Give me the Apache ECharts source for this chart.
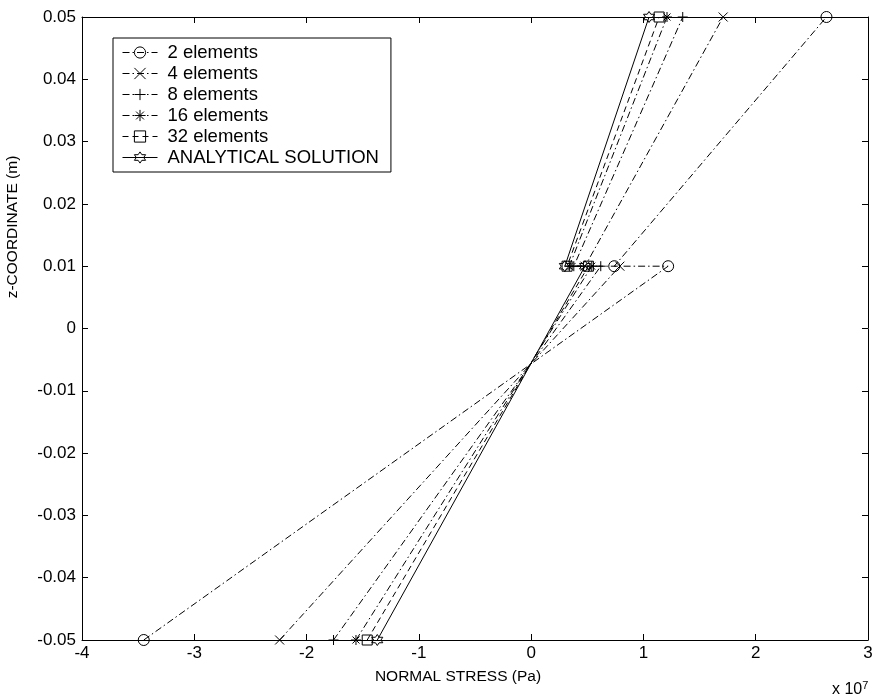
<!DOCTYPE html>
<html>
<head>
<meta charset="utf-8">
<script src="https://cdn.jsdelivr.net/npm/echarts@6/dist/echarts.min.js"></script>
<style>
html,body{margin:0;padding:0;background:#fff;}
#chart{width:878px;height:698px;}
</style>
</head>
<body>
<div id="chart"></div>
<script>
// z-coordinates of the points of each curve (m)
const zPoints = [-0.05, 0.01, 0.01, 0.05];
// normal stress values, in units of 1e7 Pa
const stress2 = [-3.45, 1.22, 0.74, 2.63];
const stress4 = [-2.24, 0.79, 0.48, 1.71];
const stress8 = [-1.76, 0.62, 0.38, 1.35];
const stress16 = [-1.56, 0.54, 0.34, 1.21];
const stress32 = [-1.46, 0.51, 0.32, 1.14];
const stressAnalytical = [-1.37, 0.48, 0.30, 1.05];
const seriesNames = ['2 elements', '4 elements', '8 elements', '16 elements', '32 elements', 'ANALYTICAL SOLUTION'];
const xTicks = [-4, -3, -2, -1, 0, 1, 2, 3];
const yTicks = [-0.05, -0.04, -0.03, -0.02, -0.01, 0, 0.01, 0.02, 0.03, 0.04, 0.05];

const FONT = "'Liberation Sans', Arial, sans-serif";
const symX = 'path://M0 0 L20 20 M20 0 L0 20';
const symPlus = 'path://M10 0 L10 20 M0 10 L20 10';
const symStar = 'path://M10 0 L10 20 M0 10 L20 10 M3 3 L17 17 M17 3 L3 17';
const symHex = 'path://M10 0 L12.89 5 L18.66 5 L15.77 10 L18.66 15 L12.89 15 L10 20 L7.11 15 L1.34 15 L4.23 10 L1.34 5 L7.11 5 Z';

const dashDot = [7, 3, 1.5, 3];
const styles = [
  {symbol: 'circle', size: 11, line: dashDot},
  {symbol: symX, size: 9, line: dashDot},
  {symbol: symPlus, size: 10, line: dashDot},
  {symbol: symStar, size: 10, line: dashDot},
  {symbol: 'rect', size: 10, line: [6, 4]},
  {symbol: symHex, size: 11, line: 'solid'}
];
const allStress = [stress2, stress4, stress8, stress16, stress32, stressAnalytical];

const series = allStress.map((vals, i) => ({
  name: seriesNames[i],
  type: 'line',
  xAxisIndex: 0,
  yAxisIndex: 0,
  data: vals.map((v, k) => [v, zPoints[k]]),
  symbol: styles[i].symbol,
  symbolSize: styles[i].size,
  showAllSymbol: true,
  clip: false,
  animation: false,
  lineStyle: {color: '#000', width: 1, type: styles[i].line},
  itemStyle: {color: 'rgba(0,0,0,0)', borderColor: '#000', borderWidth: 1},
  emphasis: {disabled: true}
}));

const axisCommon = {
  axisLine: {show: true, onZero: false, lineStyle: {color: '#000', width: 1}},
  axisTick: {show: true, inside: true, length: 6, lineStyle: {color: '#000'}},
  splitLine: {show: false}
};

const chart = echarts.init(document.getElementById('chart'), null, {renderer: 'canvas'});
chart.setOption({
  backgroundColor: '#fff',
  animation: false,
  textStyle: {fontFamily: FONT},
  grid: {left: 82, right: 10, top: 17, bottom: 58, show: false, containLabel: false},
  xAxis: [
    Object.assign({
      type: 'value', position: 'bottom', min: xTicks[0], max: xTicks[xTicks.length - 1], interval: 1,
      axisLabel: {color: '#000', fontSize: 17, fontFamily: FONT, margin: 5}
    }, axisCommon),
    Object.assign({
      type: 'value', position: 'top', min: xTicks[0], max: xTicks[xTicks.length - 1], interval: 1,
      axisLabel: {show: false}
    }, axisCommon)
  ],
  yAxis: [
    Object.assign({
      type: 'value', position: 'left', min: yTicks[0], max: yTicks[yTicks.length - 1], interval: 0.01,
      axisLabel: {color: '#000', fontSize: 17, fontFamily: FONT, margin: 6,
        formatter: v => Math.abs(v) < 1e-9 ? '0' : v.toFixed(2)}
    }, axisCommon),
    Object.assign({
      type: 'value', position: 'right', min: yTicks[0], max: yTicks[yTicks.length - 1], interval: 0.01,
      axisLabel: {show: false}
    }, axisCommon)
  ],
  legend: {
    data: seriesNames,
    orient: 'vertical',
    left: 113, top: 38,
    padding: [4, 12, 4, 9],
    itemGap: 0,
    itemWidth: 35,
    itemHeight: 14,
    selectedMode: false,
    backgroundColor: '#fff',
    borderColor: '#000',
    borderWidth: 1,
    borderRadius: 0,
    lineStyle: {width: 1},
    itemStyle: {borderWidth: 1},
    textStyle: {color: '#000', fontSize: 18.5, lineHeight: 21, fontFamily: FONT, padding: [0, 0, 0, 5]}
  },
  graphic: [
    {type: 'text', x: 458, y: 677, style: {text: 'NORMAL STRESS (Pa)', font: '15.5px ' + FONT, fill: '#000', textAlign: 'center', textVerticalAlign: 'middle'}},
    {type: 'text', x: 13, y: 227, rotation: Math.PI / 2, style: {text: 'z-COORDINATE (m)', font: '15.5px ' + FONT, fill: '#000', textAlign: 'center', textVerticalAlign: 'middle'}},
    {type: 'text', x: 832, y: 680, style: {
      text: '{a|x 10}{b|7}', fill: '#000',
      rich: {a: {fontSize: 16, fontFamily: FONT, color: '#000'}, b: {fontSize: 11, fontFamily: FONT, color: '#000', verticalAlign: 'top', padding: [0, 0, 8, 0]}}
    }}
  ],
  series: series
});
</script>
</body>
</html>
